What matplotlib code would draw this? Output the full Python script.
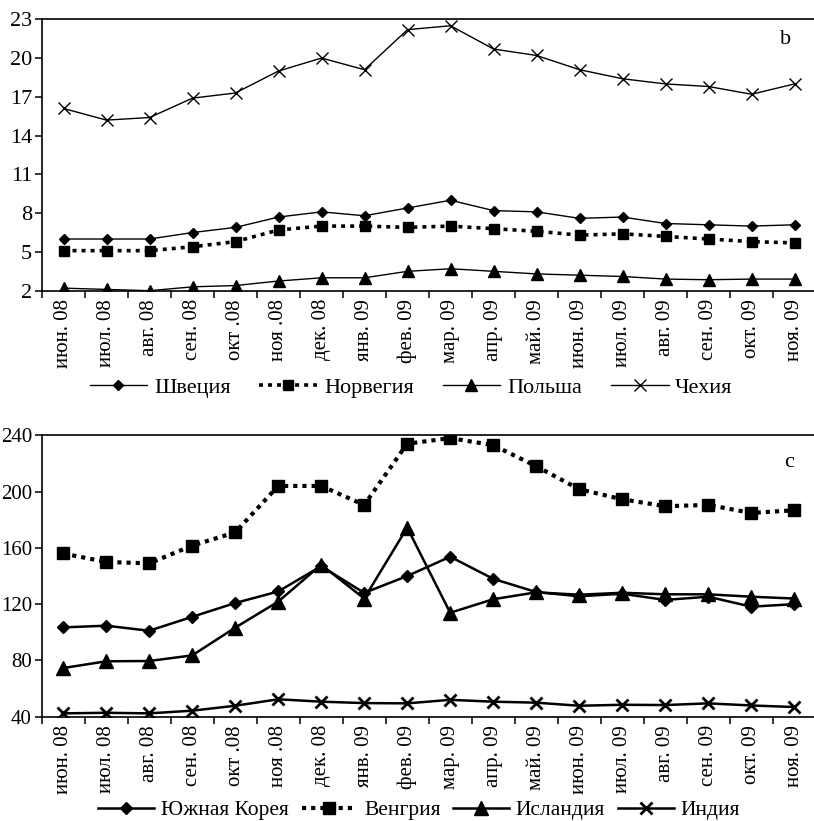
import numpy as np
import matplotlib
matplotlib.use("Agg")
import matplotlib.pyplot as plt
from matplotlib.ticker import FixedLocator, NullFormatter

plt.rcParams['font.family'] = ['Liberation Serif', 'DejaVu Serif']

months = ["июн. 08", "июл. 08", "авг. 08", "сен. 08", "окт .08", "ноя .08",
          "дек. 08", "янв. 09", "фев. 09", "мар. 09", "апр. 09", "май. 09",
          "июн. 09", "июл. 09", "авг. 09", "сен. 09", "окт. 09", "ноя. 09"]

# panel b
sweden = [6.0, 6.0, 6.0, 6.5, 6.9, 7.7, 8.1, 7.8, 8.4, 9.0, 8.2, 8.1,
          7.6, 7.7, 7.2, 7.1, 7.0, 7.1]
norway = [5.1, 5.1, 5.1, 5.4, 5.8, 6.7, 7.0, 7.0, 6.9, 7.0, 6.8, 6.6,
          6.3, 6.4, 6.2, 6.0, 5.8, 5.7]
poland = [2.2, 2.1, 2.0, 2.3, 2.4, 2.75, 3.0, 3.0, 3.5, 3.7, 3.5, 3.3,
          3.2, 3.1, 2.9, 2.85, 2.9, 2.9]
czech = [16.1, 15.2, 15.4, 16.9, 17.3, 19.0, 20.0, 19.1, 22.2, 22.5, 20.7, 20.2,
         19.1, 18.4, 18.0, 17.8, 17.2, 18.0]
yticks_b = [2, 5, 8, 11, 14, 17, 20, 23]

# panel c
korea = [103.5, 104.7, 101.1, 111, 120.8, 129, 147, 128, 140, 153.7, 138, 128.6,
         125.6, 127.4, 123, 125.3, 118.2, 120]
hungary = [156, 150, 149, 161.6, 171, 204, 204, 190.5, 234, 238, 233, 218,
           201.7, 194.5, 189.6, 190.5, 184.8, 186.7]
iceland = [74.6, 79.4, 79.6, 83.6, 103.3, 121.8, 148, 124, 174.4, 113.9, 123.5, 128.4,
           126.7, 128.1, 127, 127, 125.3, 124]
india = [42.4, 42.8, 42.4, 44.3, 47.8, 52.4, 50.7, 49.7, 49.5, 52, 50.7, 50,
         47.8, 48.5, 48.3, 49.5, 48, 46.9]
yticks_c = [40, 80, 120, 160, 200, 240]

x = np.arange(len(months))

fig = plt.figure(figsize=(8.14, 8.21), dpi=100)
ax_b = fig.add_axes([0.0516, 0.6459, 0.9509, 0.3306])
ax_c = fig.add_axes([0.0512, 0.1270, 0.9509, 0.3428])


def style_axes(ax, yticks, ysize):
    ax.set_xlim(-0.5, len(months) - 0.5)
    ax.set_ylim(yticks[0], yticks[-1])
    ax.set_yticks(yticks)
    ax.set_xticks(x)
    ax.set_xticklabels(months, rotation=90, fontsize=15)
    ax.xaxis.set_minor_locator(FixedLocator(np.arange(-0.5, len(months), 1.0)))
    ax.xaxis.set_minor_formatter(NullFormatter())
    ax.tick_params(axis='x', which='major', length=0, pad=6)
    ax.tick_params(axis='x', which='minor', length=5, width=1.1, direction='out')
    ax.tick_params(axis='y', length=5, width=1.1, direction='out', labelsize=ysize, pad=2)
    ax.spines['right'].set_visible(False)
    for s in ('left', 'bottom', 'top'):
        ax.spines[s].set_linewidth(1.2)


# panel b lines
ax_b.plot(x, sweden, color='black', lw=1.0, marker='D', ms=5.2, label='Швеция')
ax_b.plot(x, norway, color='black', lw=2.6, dashes=(1.1, 1.4), marker='s', ms=7.5,
          label='Норвегия')
ax_b.plot(x, poland, color='black', lw=1.0, marker='^', ms=8, label='Польша')
ax_b.plot(x, czech, color='black', lw=1.0, marker='x', ms=8.5, mew=1.0, label='Чехия')
style_axes(ax_b, yticks_b, 16)
ax_b.text(0.961, 0.924, 'b', transform=ax_b.transAxes, fontsize=16, ha='center', va='center')
ax_b.legend(loc='center', bbox_to_anchor=(0.505, 1 - 388 / 821), bbox_transform=fig.transFigure,
            ncol=4, frameon=False, fontsize=16, handlelength=2.6, handletextpad=0.3,
            columnspacing=1.3, numpoints=1, borderpad=0)

# panel c lines
ax_c.plot(x, korea, color='black', lw=1.8, marker='D', ms=5.8, label='Южная Корея')
ax_c.plot(x, hungary, color='black', lw=3.0, dashes=(1.0, 1.2), marker='s', ms=8.8,
          label='Венгрия')
ax_c.plot(x, iceland, color='black', lw=1.8, marker='^', ms=9.5, label='Исландия')
ax_c.plot(x, india, color='black', lw=1.8, marker='x', ms=8, mew=2.0, label='Индия')
style_axes(ax_c, yticks_c, 15)
ax_c.text(0.965, 0.905, 'c', transform=ax_c.transAxes, fontsize=16, ha='center', va='center')
ax_c.legend(loc='center', bbox_to_anchor=(0.515, 1 - 810 / 821), bbox_transform=fig.transFigure,
            ncol=4, frameon=False, fontsize=15.5, handlelength=2.6, handletextpad=0.3,
            columnspacing=0.6, numpoints=1, borderpad=0)

fig.savefig('out.png', dpi=100)
